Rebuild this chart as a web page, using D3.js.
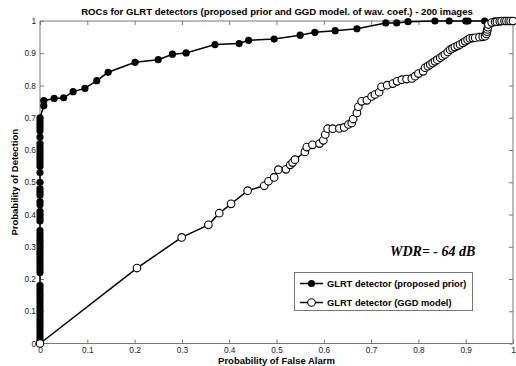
<!DOCTYPE html>
<html><head><meta charset="utf-8">
<script src="https://cdn.jsdelivr.net/npm/d3@7"></script>
<style>body{margin:0;background:#fff;}svg{display:block;font-family:Arial,"Liberation Sans",sans-serif;}</style>
</head><body><div id="c"></div>
<script>
const titleText = "ROCs for GLRT detectors (proposed prior and GGD model. of wav. coef.) - 200 images";
const xLabel = "Probability of False Alarm";
const yLabel = "Probability of Detection";
const annotation = "WDR= - 64 dB";
const seriesNames = ["GLRT detector (proposed prior)", "GLRT detector (GGD model)"];
const xTicks = [0,0.1,0.2,0.3,0.4,0.5,0.6,0.7,0.8,0.9,1];
const yTicks = [0,0.1,0.2,0.3,0.4,0.5,0.6,0.7,0.8,0.9,1];

// proposed prior: vertical run at Pfa = 0, then the curve
const priorColumnPd = [0,0.01,0.02,0.03,0.04,0.05,0.06,0.07,0.08,0.09,0.10,0.11,0.12,0.13,0.14,0.15,0.16,0.17,0.18,0.22,0.23,0.24,0.25,0.26,0.27,0.28,0.29,0.30,0.31,0.32,0.33,0.34,0.35,0.38,0.39,0.40,0.41,0.43,0.44,0.46,0.47,0.48,0.50,0.53,0.55,0.56,0.57,0.58,0.59,0.60,0.61,0.62,0.64,0.66,0.67,0.68,0.69,0.70];
const priorPfa = [0.008,0.008,0.030,0.050,0.070,0.095,0.120,0.144,0.201,0.250,0.280,0.309,0.370,0.421,0.441,0.495,0.550,0.581,0.624,0.670,0.731,0.754,0.778,0.835,0.865,0.900,0.905,0.940,0.960,0.980,1.0];
const priorPd  = [0.737,0.753,0.760,0.762,0.781,0.791,0.815,0.841,0.872,0.880,0.897,0.901,0.927,0.930,0.940,0.944,0.956,0.965,0.970,0.976,0.994,0.994,0.998,1,1,1,1,1,1,1,1];

// GGD model
const ggdPfa = [0,0.205,0.2995,0.356,0.379,0.404,0.439,0.474,0.483,0.495,0.504,0.520,0.529,0.534,0.539,0.560,0.564,0.576,0.591,0.599,0.603,0.608,0.619,0.633,0.643,0.652,0.659,0.662,0.670,0.673,0.680,0.691,0.701,0.708,0.717,0.722,0.734,0.746,0.755,0.765,0.775,0.786,0.793,0.800,0.810,0.814,0.820,0.825,0.830,0.835,0.840,0.846,0.851,0.856,0.862,0.867,0.872,0.877,0.883,0.888,0.894,0.899,0.904,0.909,0.915,0.920,0.929,0.936,0.941,0.944,0.945,0.946,0.947,0.948,0.955,0.962,0.966,0.972,0.976,0.982,0.986,0.991,0.995,1];
const ggdPd  = [0,0.234,0.329,0.368,0.404,0.433,0.474,0.489,0.503,0.515,0.539,0.540,0.554,0.561,0.570,0.594,0.609,0.616,0.620,0.630,0.648,0.666,0.666,0.667,0.670,0.679,0.684,0.696,0.715,0.734,0.751,0.754,0.766,0.772,0.779,0.796,0.801,0.806,0.813,0.818,0.820,0.822,0.829,0.837,0.844,0.855,0.860,0.865,0.870,0.875,0.880,0.886,0.891,0.896,0.904,0.911,0.915,0.919,0.923,0.927,0.932,0.937,0.942,0.946,0.947,0.948,0.950,0.951,0.953,0.960,0.967,0.974,0.981,0.989,0.995,0.997,0.998,0.999,1,1,1,1,1,1];

const W = 516, H = 366;
const m = {left:40, right:3, top:21, bottom:22.5};
const svg = d3.select("#c").append("svg").attr("width",W).attr("height",H);
const x = d3.scaleLinear().domain([0,1]).range([m.left, W-m.right]);
const y = d3.scaleLinear().domain([0,1]).range([H-m.bottom, m.top]);

const axisCol = "#777";
function styleAxis(g){
  g.select(".domain").remove();
  g.selectAll(".tick line").attr("stroke",axisCol);
  g.selectAll(".tick text").attr("fill","#222").style("font-size","8.3px");
}
const fmt = d => d===0?"0":d===1?"1":d3.format(".1f")(d);
svg.append("g").attr("transform",`translate(0,${y(0)})`)
  .call(d3.axisBottom(x).tickValues(xTicks).tickFormat(fmt).tickSizeInner(-4).tickSizeOuter(0).tickPadding(4)).call(styleAxis);
svg.append("g").attr("transform",`translate(0,${y(1)})`)
  .call(d3.axisTop(x).tickValues(xTicks).tickFormat("").tickSizeInner(-4).tickSizeOuter(0)).call(styleAxis);
svg.append("g").attr("transform",`translate(${x(0)},0)`)
  .call(d3.axisLeft(y).tickValues(yTicks).tickFormat(fmt).tickSizeInner(-4).tickSizeOuter(0).tickPadding(4)).call(styleAxis);
svg.append("g").attr("transform",`translate(${x(1)},0)`)
  .call(d3.axisRight(y).tickValues(yTicks).tickFormat("").tickSizeInner(-4).tickSizeOuter(0)).call(styleAxis);
svg.append("rect").attr("x",x(0)).attr("y",y(1)).attr("width",x(1)-x(0)).attr("height",y(0)-y(1))
  .attr("fill","none").attr("stroke",axisCol).attr("stroke-width",1);

const prior = priorColumnPd.map(v=>[0,v]).concat(priorPfa.map((v,i)=>[v,priorPd[i]]));
const ggd = ggdPfa.map((v,i)=>[v,ggdPd[i]]);
const line = d3.line().x(d=>x(d[0])).y(d=>y(d[1]));

svg.append("path").datum(prior).attr("d",line).attr("fill","none").attr("stroke","#000").attr("stroke-width",1.5);
svg.append("g").selectAll("circle").data(prior).join("circle")
  .attr("cx",d=>x(d[0])).attr("cy",d=>y(d[1])).attr("r",3.6).attr("fill","#000");

svg.append("path").datum(ggd).attr("d",line).attr("fill","none").attr("stroke","#000").attr("stroke-width",1.5);
svg.append("g").selectAll("circle").data(ggd).join("circle")
  .attr("cx",d=>x(d[0])).attr("cy",d=>y(d[1])).attr("r",3.8).attr("fill","#fff").attr("stroke","#000").attr("stroke-width",1.1);

// title and labels
svg.append("text").attr("x",277).attr("y",15).attr("text-anchor","middle")
  .style("font-size","9.6px").style("font-weight","bold").text(titleText);
svg.append("text").attr("x",(x(0)+x(1))/2).attr("y",364).attr("text-anchor","middle")
  .style("font-size","9.5px").style("font-weight","bold").text(xLabel);
svg.append("text").attr("transform",`translate(18,${(y(0)+y(1))/2}) rotate(-90)`).attr("text-anchor","middle")
  .style("font-size","9.5px").style("font-weight","bold").text(yLabel);

svg.append("text").attr("x",390).attr("y",256)
  .style("font-family","'Liberation Serif','Times New Roman',serif").style("font-size","14px")
  .style("font-weight","bold").style("font-style","italic").text(annotation);

// legend
const lg = svg.append("g");
lg.append("rect").attr("x",294.5).attr("y",272.5).attr("width",178).attr("height",38)
  .attr("fill","#fff").attr("stroke","#777").attr("stroke-width",1);
[0,1].forEach(i=>{
  const ly = 283.5 + i*19;
  lg.append("line").attr("x1",300).attr("x2",323).attr("y1",ly).attr("y2",ly).attr("stroke","#000").attr("stroke-width",1.5);
  lg.append("circle").attr("cx",311.5).attr("cy",ly).attr("r",i?3.8:3.6)
    .attr("fill",i?"#fff":"#000").attr("stroke","#000").attr("stroke-width",i?1.1:0);
  lg.append("text").attr("x",327).attr("y",ly+3.3).style("font-size","9.3px").style("font-weight","bold").text(seriesNames[i]);
});
</script></body></html>
